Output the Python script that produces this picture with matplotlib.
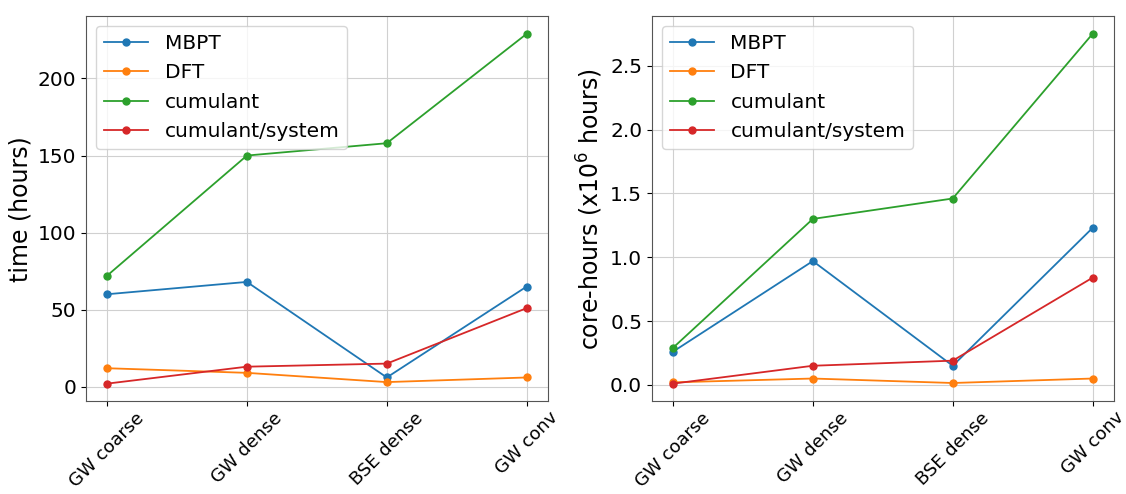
import matplotlib
matplotlib.use("Agg")
import matplotlib.pyplot as plt

steps = ["GW coarse", "GW dense", "BSE dense", "GW conv"]
series_names = ["MBPT", "DFT", "cumulant", "cumulant/system"]

# wall time in hours
time_mbpt = [60, 68, 6, 65]
time_dft = [12, 9, 3, 6]
time_cumulant = [72, 150, 158, 229]
time_cum_sys = [2, 13, 15, 51]

# core-hours in units of 1e6
core_mbpt = [0.26, 0.97, 0.15, 1.23]
core_dft = [0.02, 0.05, 0.015, 0.05]
core_cumulant = [0.29, 1.30, 1.46, 2.75]
core_cum_sys = [0.01, 0.15, 0.19, 0.84]

fig = plt.figure(figsize=(11.26, 4.94), dpi=100)
ax1 = fig.add_axes([0.0764, 0.188, 0.410, 0.779])
ax2 = fig.add_axes([0.579, 0.188, 0.410, 0.779])


def draw(ax, data, ylabel):
    for name, vals in zip(series_names, data):
        ax.plot(steps, vals, marker="o", markersize=5, linewidth=1.3, label=name)
    ax.grid(True, color="#d0d0d0", linewidth=0.8)
    ax.set_ylabel(ylabel, fontsize=17)
    ax.tick_params(axis="y", labelsize=14.5)
    ax.tick_params(axis="x", labelsize=13, pad=2)
    plt.setp(ax.get_xticklabels(), rotation=45, ha="center")
    for s in ax.spines.values():
        s.set_color("#555555")
    ax.legend(loc="upper left", fontsize=14.5, handlelength=2.2)


draw(ax1, [time_mbpt, time_dft, time_cumulant, time_cum_sys], "time (hours)")
draw(ax2, [core_mbpt, core_dft, core_cumulant, core_cum_sys],
     "core-hours (x10$^6$ hours)")
ax1.set_yticks([0, 50, 100, 150, 200])
ax2.set_yticks([0.0, 0.5, 1.0, 1.5, 2.0, 2.5])

fig.savefig("out.png", dpi=100)
